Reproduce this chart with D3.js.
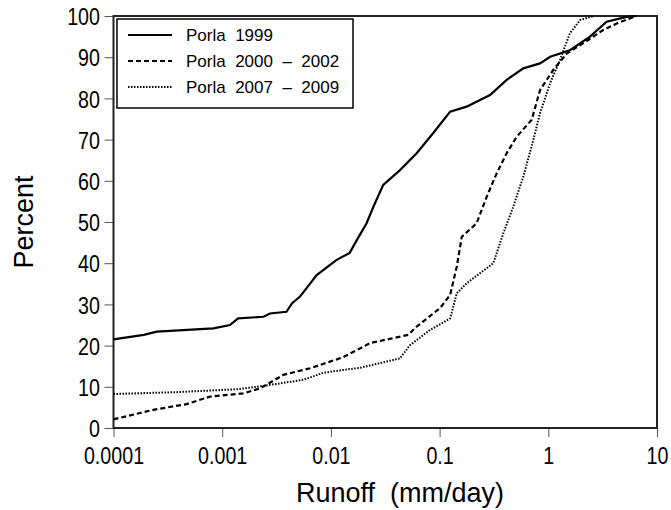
<!DOCTYPE html>
<html><head><meta charset="utf-8">
<script src="https://cdn.jsdelivr.net/npm/d3@7"></script>
<style>
body{margin:0;background:#fff;}
svg{display:block;}
</style></head>
<body>
<script>
const xTicks = [0.0001, 0.001, 0.01, 0.1, 1, 10];
const xTickLabels = ["0.0001", "0.001", "0.01", "0.1", "1", "10"];
const yTicks = [0,10,20,30,40,50,60,70,80,90,100];
const seriesNames = ["Porla  1999", "Porla  2000  \u2013  2002", "Porla  2007  \u2013  2009"];

const x1999 = [0.0001, 0.00019, 0.00025, 0.00083, 0.00118, 0.0014, 0.0024, 0.00275, 0.0039, 0.0044, 0.0052, 0.0074, 0.0113, 0.0149, 0.0173, 0.0213, 0.0246, 0.0303, 0.0432, 0.0615, 0.0875, 0.125, 0.177, 0.291, 0.414, 0.589, 0.839, 1.04, 1.58, 2.42, 3.44, 5.25, 6.5];
const y1999 = [21.5, 22.6, 23.4, 24.2, 25, 26.6, 27, 27.8, 28.2, 30.3, 31.9, 37.1, 40.8, 42.5, 45.6, 49.7, 53.7, 59, 62.6, 66.7, 71.6, 76.8, 78, 80.8, 84.5, 87.3, 88.5, 90.1, 91.7, 95, 98.6, 99.8, 100];

const x2000 = [0.0001, 0.000232, 0.00047, 0.00077, 0.00156, 0.00223, 0.00365, 0.00643, 0.0098, 0.013, 0.0185, 0.0229, 0.0515, 0.0615, 0.101, 0.125, 0.144, 0.16, 0.219, 0.271, 0.335, 0.414, 0.512, 0.703, 0.839, 1.11, 1.48, 2.1, 3.2, 4.26, 6.5];
const y2000 = [2.1, 4.4, 5.8, 7.6, 8.4, 9.6, 12.9, 14.5, 16.1, 17.2, 19.3, 20.6, 22.6, 24.6, 29.1, 32.3, 39.2, 46.4, 49.7, 56.1, 61.8, 66.7, 70.7, 74.8, 82, 86.9, 90.9, 93.4, 96.6, 98.2, 100];

const x2007 = [0.0001, 0.00038, 0.00136, 0.00208, 0.00317, 0.00557, 0.0085, 0.013, 0.0185, 0.0432, 0.0534, 0.0817, 0.125, 0.144, 0.177, 0.312, 0.385, 0.476, 0.589, 0.728, 0.839, 1.04, 1.28, 1.58, 1.96, 2.6];
const y2007 = [8.25, 8.7, 9.4, 10, 10.7, 11.7, 13.4, 14.1, 14.6, 16.9, 20.1, 23.8, 26.6, 32.7, 35.1, 40, 47.2, 53.7, 61, 69.9, 76.4, 83.7, 89.3, 95.8, 99, 100];

const W = 671, H = 510;
const m = {left:113.5, right:W-657, top:16, bottom:H-428};
const svg = d3.select("body").append("svg").attr("width", W).attr("height", H);

const x = d3.scaleLog().domain([0.0001, 10]).range([m.left, W - m.right]);
const y = d3.scaleLinear().domain([0, 100]).range([H - m.bottom, m.top]);

const mainFont = "'Liberation Sans', Arial, Helvetica, sans-serif";
const narrow = 0.82;

// axes
const xAxis = svg.append("g").attr("transform", `translate(0,${H - m.bottom})`)
  .call(d3.axisBottom(x).tickValues(xTicks).tickFormat((d,i)=>xTickLabels[i]).tickSize(9).tickPadding(10));
const yAxis = svg.append("g").attr("transform", `translate(${m.left},0)`)
  .call(d3.axisLeft(y).tickValues(yTicks).tickSize(9).tickPadding(4));
[xAxis, yAxis].forEach(g => {
  g.select(".domain").remove();
  g.selectAll("line").attr("stroke", "#555").attr("stroke-width", 1);
  g.selectAll("text").attr("fill", "#000").style("font-family", mainFont).style("font-size", "24px")
    .attr("transform", `scale(${narrow},1)`);
});
yAxis.selectAll("text").attr("dy", "0.36em").attr("x", -13.5 / narrow);

// frame
svg.append("rect").attr("x", m.left).attr("y", m.top)
  .attr("width", W - m.left - m.right).attr("height", H - m.top - m.bottom)
  .attr("fill", "none").attr("stroke", "#222").attr("stroke-width", 2);

const series = [
  {xs:x1999, ys:y1999, dash:null, w:2.2},
  {xs:x2000, ys:y2000, dash:"5,3", w:2.2},
  {xs:x2007, ys:y2007, dash:"1.5,1.5", w:2}
];
const line = d3.line().x(d=>x(d[0])).y(d=>y(d[1]));
series.forEach(s => {
  const pts = s.xs.map((v,i)=>[v, s.ys[i]]);
  svg.append("path").datum(pts).attr("d", line)
    .attr("fill","none").attr("stroke","#000").attr("stroke-width", s.w)
    .attr("stroke-dasharray", s.dash);
});

// legend
const lg = svg.append("g");
lg.append("rect").attr("x", 117).attr("y", 19).attr("width", 236).attr("height", 89)
  .attr("fill","#fff").attr("stroke","#000").attr("stroke-width",1.5);
const rowsY = [35, 61, 87];
series.forEach((s,i)=>{
  lg.append("line").attr("x1",128).attr("x2",172).attr("y1",rowsY[i]).attr("y2",rowsY[i])
    .attr("stroke","#000").attr("stroke-width", s.w).attr("stroke-dasharray", s.dash);
  lg.append("text").attr("x",186).attr("y",rowsY[i]).attr("dy","0.36em")
    .style("font-family", mainFont).style("font-size","17px").style("white-space","pre")
    .attr("xml:space","preserve")
    .text(seriesNames[i]);
});

// axis titles
svg.append("text").attr("x", 400).attr("y", 502).attr("text-anchor","middle")
  .style("font-family", mainFont).style("font-size","27px").style("white-space","pre")
  .attr("xml:space","preserve").text("Runoff  (mm/day)");
svg.append("text").attr("transform","translate(33,222) rotate(-90)").attr("text-anchor","middle")
  .style("font-family", mainFont).style("font-size","27px").text("Percent");
</script>
</body></html>
